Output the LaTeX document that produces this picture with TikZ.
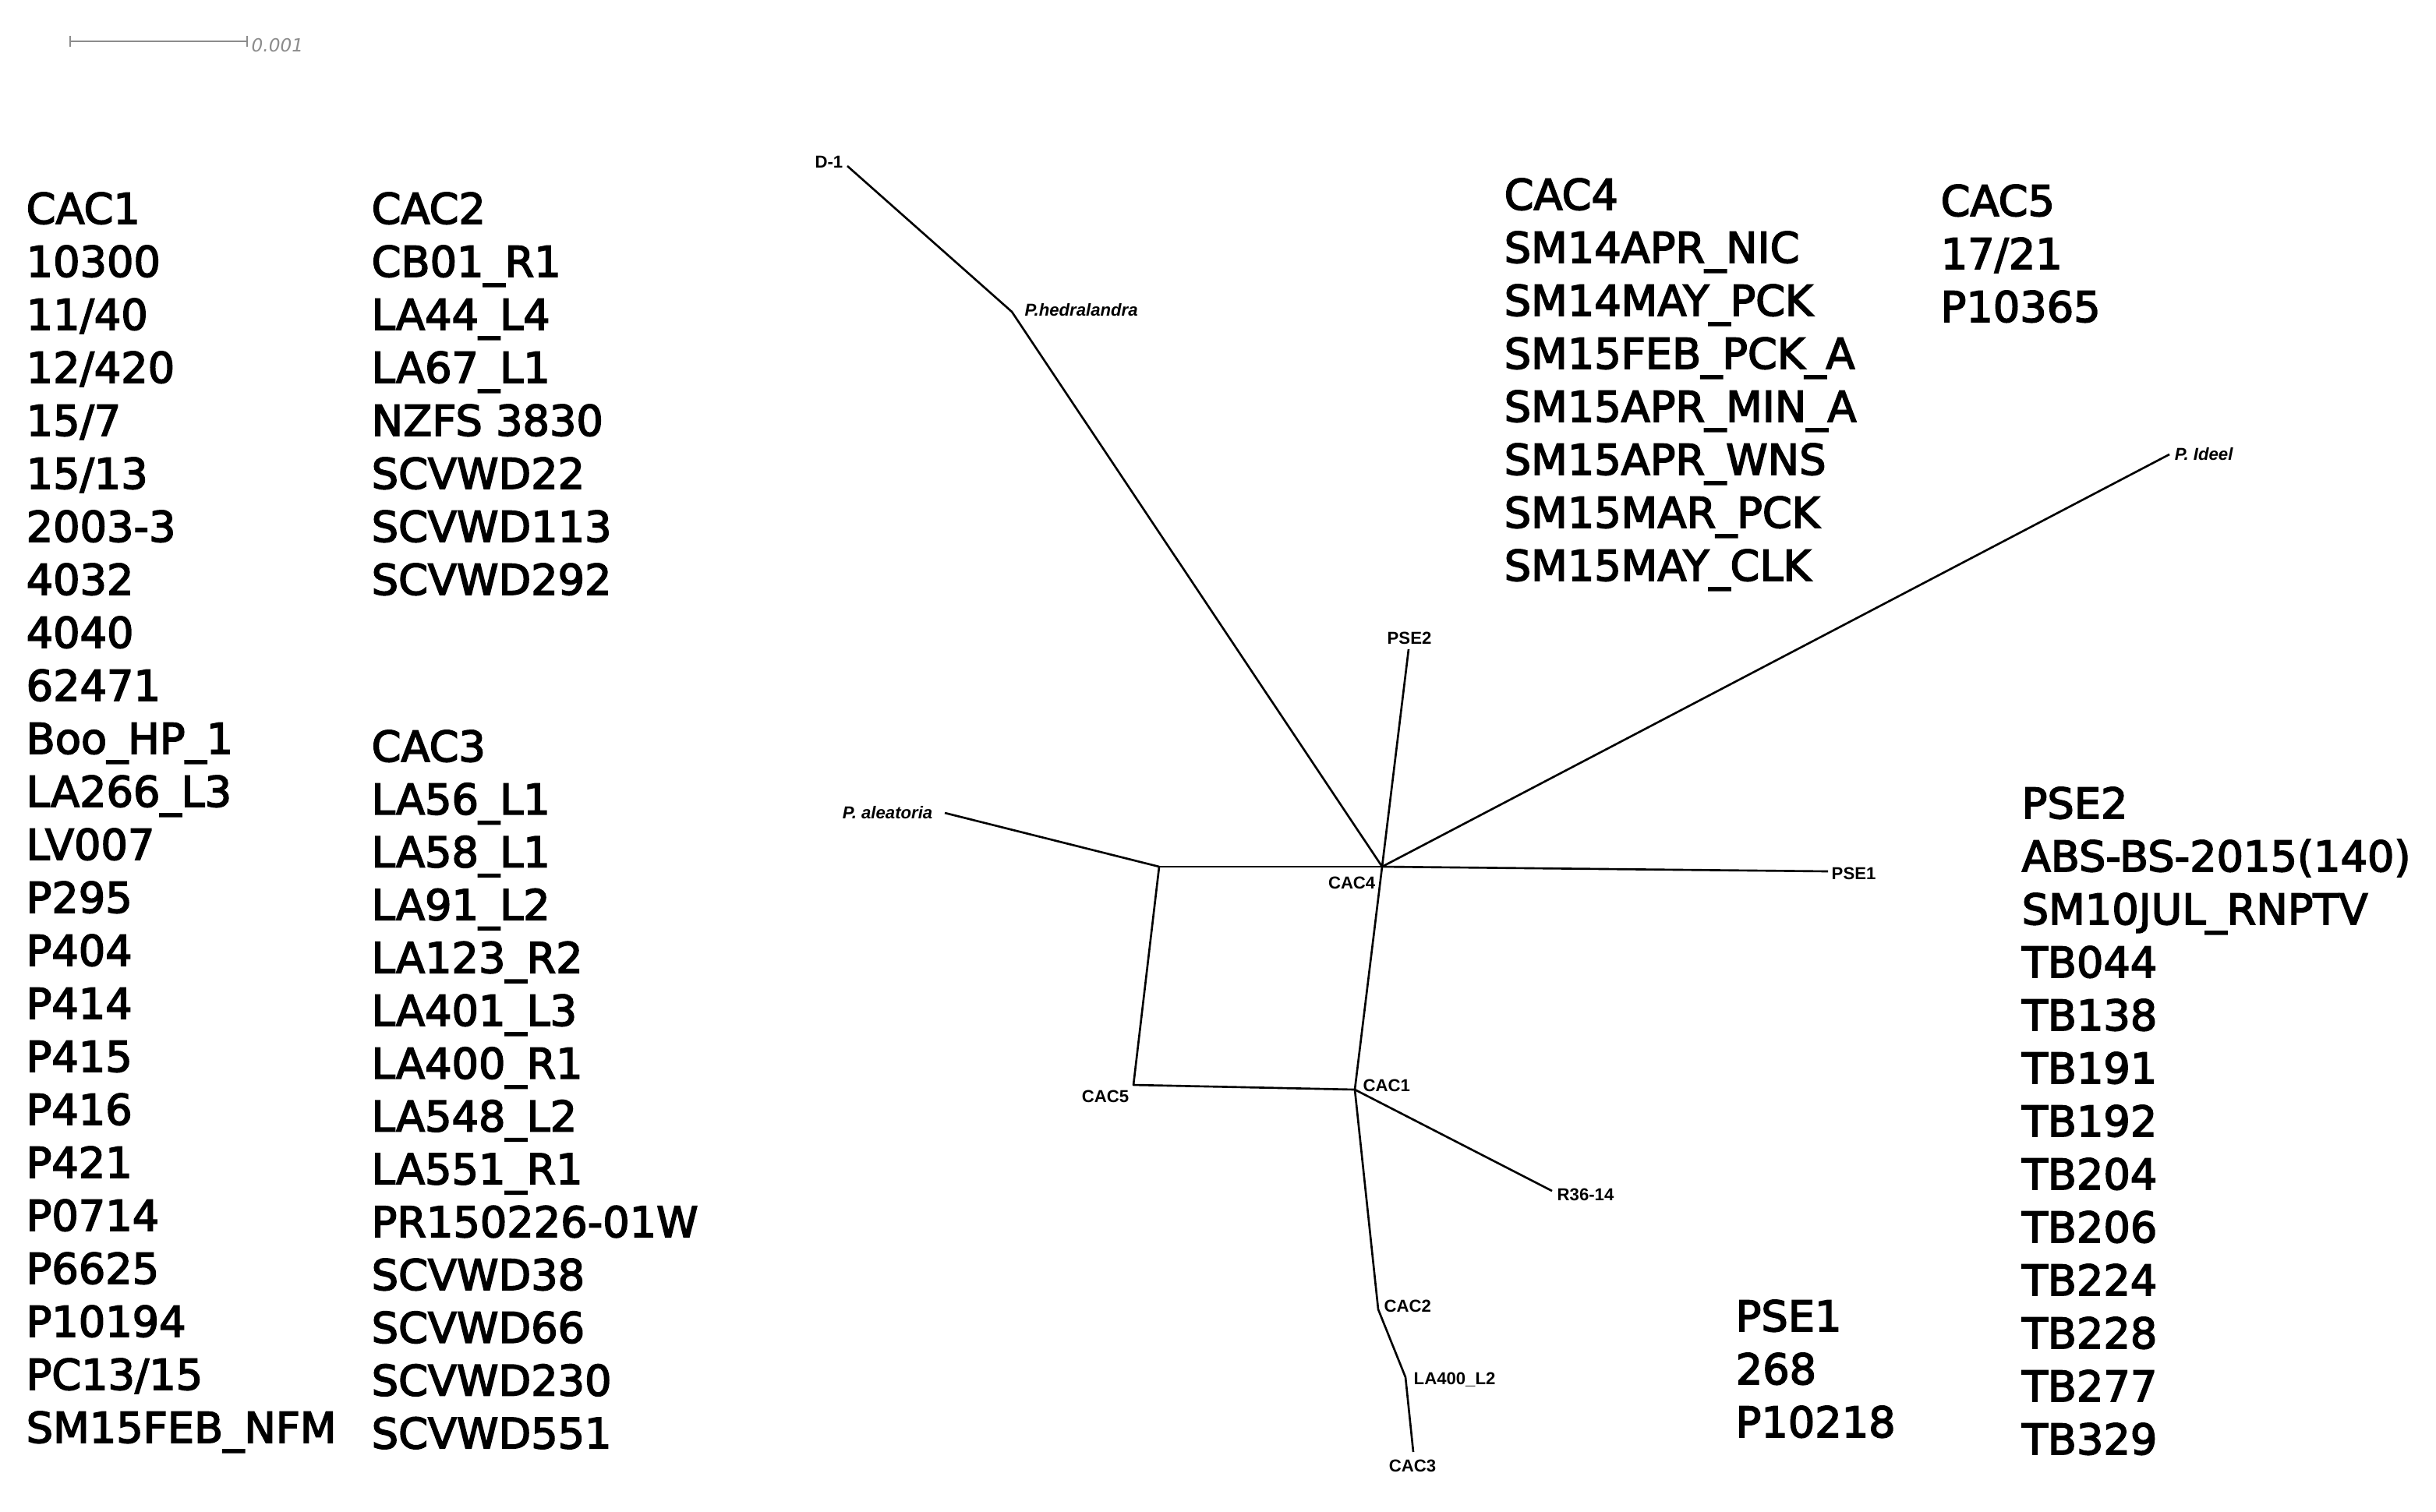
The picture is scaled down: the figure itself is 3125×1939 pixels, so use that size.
\documentclass[tikz,border=0pt]{standalone}
\usepackage{fontspec}
\setmainfont{DejaVu Sans}
\newfontfamily\listfont[FakeBold=3]{DejaVu Sans}
\newfontfamily\lab{Liberation Sans}
\definecolor{scalegray}{RGB}{140,140,140}
\begin{document}
\begin{tikzpicture}[x=0.01cm,y=-0.01cm,
  branch/.style={line width=0.75pt, black, line join=round},
  listtxt/.style={anchor=base west, inner sep=0pt, font=\listfont\fontsize{15.4}{18}\selectfont},
  tiplab/.style={inner sep=0pt, font=\lab\bfseries\fontsize{6.3}{7}\selectfont},
  sptlab/.style={inner sep=0pt, font=\lab\bfseries\itshape\fontsize{6.3}{7}\selectfont},
  scalebar/.style={line width=0.8pt, scalegray}]
\useasboundingbox (0,0) rectangle (3125,1939);
% scale bar
\coordinate (sb1) at (90,53);
\coordinate (sb2) at (317,53);
\draw[scalebar] (sb1) -- (sb2);
\draw[scalebar] ([yshift=-0.07cm]sb1) -- ([yshift=0.07cm]sb1);
\draw[scalebar] ([yshift=-0.07cm]sb2) -- ([yshift=0.07cm]sb2);
\node[anchor=base west, inner sep=0pt, text=scalegray, font=\itshape\fontsize{6.6}{8}\selectfont] (sblab) at (322,67) {0.001};
% tree coordinates
\coordinate (d1) at (1087,213);
\coordinate (jh) at (1298,400);
\coordinate (j4) at (1773,1112);
\coordinate (pse2t) at (1807,833);
\coordinate (idt) at (2783,583);
\coordinate (pse1t) at (2345,1118);
\coordinate (jl) at (1487,1112);
\coordinate (alt) at (1212,1043);
\coordinate (j5) at (1454,1392);
\coordinate (j1) at (1738,1398);
\coordinate (r36) at (1991,1528);
\coordinate (j2) at (1768,1680);
\coordinate (jla) at (1803,1767);
\coordinate (c3t) at (1813,1863);
% branches
\draw[branch] (d1) -- (jh) -- (j4);
\draw[branch] (j4) -- (pse2t);
\draw[branch] (j4) -- (idt);
\draw[branch] (j4) -- (pse1t);
\draw[branch] (j4) -- (jl);
\draw[branch] (jl) -- (alt);
\draw[branch] (jl) -- (j5) -- (j1);
\draw[branch] (j1) -- (j4);
\draw[branch] (j1) -- (r36);
\draw[branch] (j1) -- (j2) -- (jla) -- (c3t);
% tree labels
\node[tiplab, anchor=base east] (lD1) at (1082,215) {D-1};
\node[sptlab, anchor=base west] (lhed) at (1314,405) {P.hedralandra};
\node[tiplab, anchor=base] (lpse2) at (1808,826) {PSE2};
\node[sptlab, anchor=base west] (lide) at (2789,590) {P. Ideel};
\node[tiplab, anchor=base west] (lpse1) at (2349,1128) {PSE1};
\node[sptlab, anchor=base east] (lale) at (1197,1050) {P. aleatoria};
\node[tiplab, anchor=base east] (lcac4) at (1765,1140) {CAC4};
\node[tiplab, anchor=base east] (lcac5) at (1449,1414) {CAC5};
\node[tiplab, anchor=base west] (lcac1) at (1748,1400) {CAC1};
\node[tiplab, anchor=base west] (lr36) at (1997,1540) {R36-14};
\node[tiplab, anchor=base west] (lcac2) at (1775,1683) {CAC2};
\node[tiplab, anchor=base west] (lla400) at (1813,1776) {LA400\_L2};
\node[tiplab, anchor=base] (lcac3) at (1812,1888) {CAC3};
% lists
\foreach \t [count=\i from 0] in {CAC1,10300,11/40,12/420,15/7,15/13,2003-3,4032,4040,62471,Boo\_HP\_1,LA266\_L3,LV007,P295,P404,P414,P415,P416,P421,P0714,P6625,P10194,PC13/15,SM15FEB\_NFM}
  \node[listtxt] (ca\i) at (33,287+68*\i) {\t};
\foreach \t [count=\i from 0] in {CAC2,CB01\_R1,LA44\_L4,LA67\_L1,NZFS 3830,SCVWD22,SCVWD113,SCVWD292}
  \node[listtxt] (cb\i) at (476,287+68*\i) {\t};
\foreach \t [count=\i from 0] in {CAC3,LA56\_L1,LA58\_L1,LA91\_L2,LA123\_R2,LA401\_L3,LA400\_R1,LA548\_L2,LA551\_R1,PR150226-01W,SCVWD38,SCVWD66,SCVWD230,SCVWD551}
  \node[listtxt] (cc\i) at (476,977+67.8*\i) {\t};
\foreach \t [count=\i from 0] in {CAC4,SM14APR\_NIC,SM14MAY\_PCK,SM15FEB\_PCK\_A,SM15APR\_MIN\_A,SM15APR\_WNS,SM15MAR\_PCK,SM15MAY\_CLK}
  \node[listtxt] (cd\i) at (1929,269+68*\i) {\t};
\foreach \t [count=\i from 0] in {CAC5,17/21,P10365}
  \node[listtxt] (ce\i) at (2489,277+68*\i) {\t};
\foreach \t [count=\i from 0] in {PSE2,ABS-BS-2015(140),SM10JUL\_RNPTV,TB044,TB138,TB191,TB192,TB204,TB206,TB224,TB228,TB277,TB329}
  \node[listtxt] (cf\i) at (2593,1050+68*\i) {\t};
\foreach \t [count=\i from 0] in {PSE1,268,P10218}
  \node[listtxt] (cg\i) at (2226,1708+68*\i) {\t};
\end{tikzpicture}
\end{document}
